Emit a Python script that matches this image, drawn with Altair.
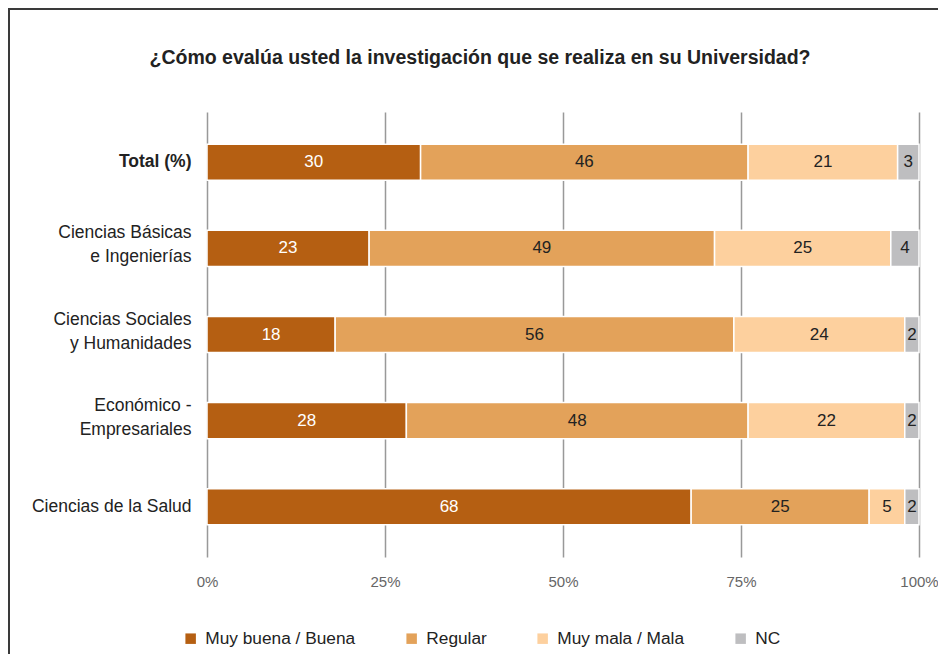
import altair as alt
import pandas as pd

# ---------------- data ----------------
categories = [
    "Total (%)",
    "Ciencias Básicas|e Ingenierías",
    "Ciencias Sociales|y Humanidades",
    "Económico -|Empresariales",
    "Ciencias de la Salud",
]
series_names = ["Muy buena / Buena", "Regular", "Muy mala / Mala", "NC"]
muy_buena = [30, 23, 18, 28, 68]
regular = [46, 49, 56, 48, 25]
muy_mala = [21, 25, 24, 22, 5]
nc = [3, 4, 2, 2, 2]
colors = ["#B55F12", "#E3A25A", "#FDD09E", "#BEBEC0"]
tick_values = [0, 0.25, 0.5, 0.75, 1]

title_text = "¿Cómo evalúa usted la investigación que se realiza en su Universidad?"

FONT = "Liberation Sans, Arial, sans-serif"

rows = []
for s_i, (name, vals) in enumerate(zip(series_names, [muy_buena, regular, muy_mala, nc])):
    for cat, v in zip(categories, vals):
        rows.append({"cat": cat, "serie": name, "value": v, "order": s_i})
df = pd.DataFrame(rows)

W, H = 712, 445

base = alt.Chart(df)

y_enc = alt.Y(
    "cat:N",
    sort=categories,
    scale=alt.Scale(paddingInner=0.58, paddingOuter=0.373),
    axis=alt.Axis(
        title=None,
        ticks=False,
        domain=False,
        labelFont=FONT,
        labelFontSize=17.5,
        labelColor="#222222",
        labelPadding=16,
        labelLineHeight=24,
        labelLimit=300,
        labelExpr="split(datum.label, '|')",
        labelOffset={"expr": "indexof(datum.label, '|') >= 0 ? -15 : 0"},
        labelFontWeight={"expr": "datum.label == 'Total (%)' ? 'bold' : 'normal'"},
    ),
)

bars = base.mark_bar(stroke="white", strokeWidth=1.5).encode(
    x=alt.X(
        "value:Q",
        stack="normalize",
        scale=alt.Scale(domain=[0, 1]),
        axis=alt.Axis(
            title=None,
            format="%",
            values=tick_values,
            ticks=False,
            domain=False,
            grid=True,
            gridColor="#999999",
            gridWidth=1.5,
            labelFont=FONT,
            labelFontSize=15,
            labelColor="#666666",
            labelPadding=17,
            labelFlush=False,
        ),
    ),
    y=y_enc,
    color=alt.Color(
        "serie:N",
        scale=alt.Scale(domain=series_names, range=colors),
        legend=alt.Legend(
            title=None,
            orient="none",
            direction="horizontal",
            legendX=-25,
            legendY=518,
            symbolType="square",
            symbolSize=110,
            symbolStrokeWidth=0,
            labelFont=FONT,
            labelFontSize=17.3,
            labelColor="#222222",
            labelOffset=6,
            labelLimit=300,
            columnPadding=47,
        ),
    ),
    order=alt.Order("order:Q"),
)

labels = (
    base.transform_stack(
        stack="value",
        groupby=["cat"],
        as_=["x0", "x1"],
        offset="normalize",
        sort=[alt.SortField("order")],
    )
    .transform_calculate(mid="(datum.x0 + datum.x1) / 2")
    .mark_text(font=FONT, fontSize=17)
    .encode(
        x=alt.X("mid:Q"),
        y=alt.Y("cat:N", sort=categories),
        text=alt.Text("value:Q"),
        color=alt.condition("datum.order == 0", alt.value("white"), alt.value("#222222")),
    )
)

title = alt.Chart(alt.Data(values=[{"t": title_text}])).mark_text(
    font=FONT, fontSize=19.5, fontWeight="bold", color="#222222", align="center", baseline="middle"
).encode(
    x=alt.value(W / 2 - 83),
    y=alt.value(-54),
    text="t:N",
)

frame = alt.Chart(alt.Data(values=[{}])).mark_rect(
    fillOpacity=0, stroke="#3a3a3a", strokeWidth=2
).encode(
    x=alt.value(-198), x2=alt.value(W + 120),
    y=alt.value(-103), y2=alt.value(H + 200),
)

chart = (
    alt.layer(bars, labels, title, frame)
    .properties(
        width=W,
        height=H,
        autosize=alt.AutoSizeParams(type="none"),
        padding={"left": 199, "top": 104, "right": 19, "bottom": 97},
    )
    .configure_view(stroke=None)
    .configure_axis(labelAngle=0)
)

chart.save("out.html", embed_options={"renderer": "svg", "actions": False})
